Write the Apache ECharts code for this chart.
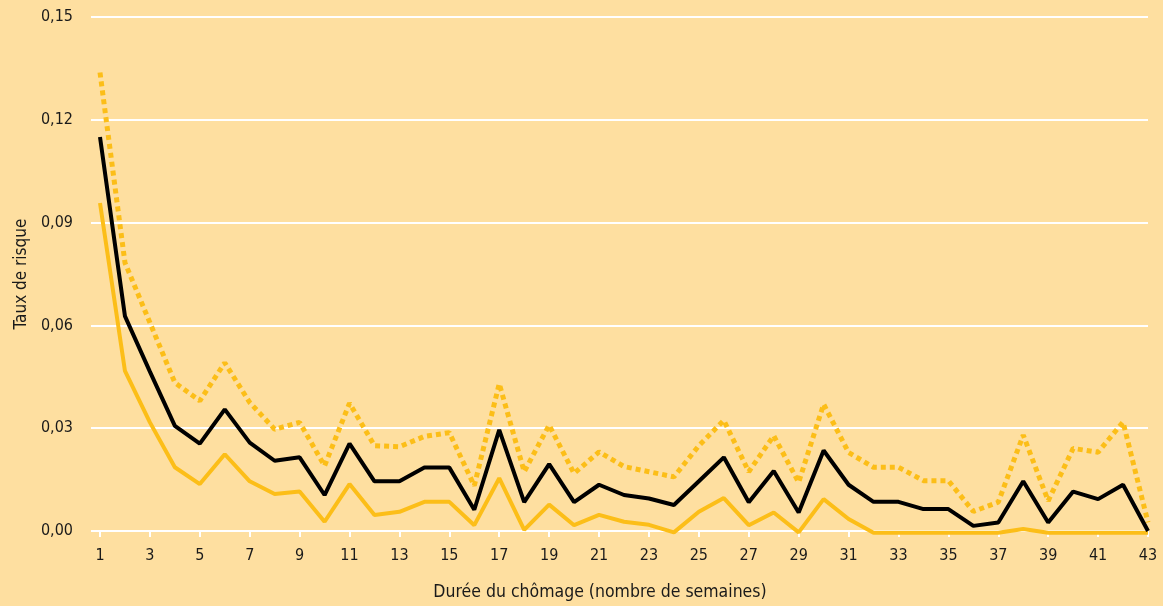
<!DOCTYPE html>
<html>
<head>
<meta charset="utf-8">
<script src="https://cdn.jsdelivr.net/npm/echarts@6/dist/echarts.min.js"></script>
<style>
html,body{margin:0;padding:0;background:#FEDFA0;}
#chart{width:1163px;height:606px;}
</style>
</head>
<body>
<div id="chart"></div>
<script>
const categories = ['1','2','3','4','5','6','7','8','9','10','11','12','13','14','15','16','17','18','19','20','21','22','23','24','25','26','27','28','29','30','31','32','33','34','35','36','37','38','39','40','41','42','43'];

const hazard = [0.115,0.0627,0.0465,0.0307,0.0255,0.0355,0.0258,0.0205,0.0215,0.0105,0.0255,0.0145,0.0145,0.0185,0.0185,0.0062,0.0295,0.0084,0.0195,0.0084,0.0135,0.0105,0.0095,0.0076,0.0145,0.0215,0.0084,0.0175,0.0054,0.0235,0.0135,0.0085,0.0085,0.0064,0.0064,0.0015,0.0025,0.0145,0.0025,0.0115,0.0093,0.0135,0.0];

const lowerBound = [0.0957,0.0467,0.0317,0.0186,0.0137,0.0224,0.0145,0.0108,0.0115,0.0027,0.0137,0.0047,0.0056,0.0085,0.0085,0.0017,0.0154,0.0003,0.0077,0.0017,0.0047,0.0027,0.0018,-0.0004,0.0056,0.0096,0.0017,0.0054,-0.0004,0.0093,0.0035,-0.0005,-0.0005,-0.0005,-0.0005,-0.0005,-0.0005,0.0006,-0.0005,-0.0005,-0.0005,-0.0005,-0.0005];

const upperBound = [0.1338,0.0783,0.0608,0.0433,0.038,0.0491,0.0375,0.0297,0.0317,0.019,0.0373,0.0249,0.0246,0.0276,0.0287,0.0132,0.043,0.0173,0.0309,0.0168,0.0231,0.0188,0.0173,0.0158,0.0249,0.0323,0.0173,0.0278,0.0142,0.037,0.0229,0.0186,0.0186,0.0147,0.0147,0.0057,0.0084,0.028,0.0088,0.0241,0.023,0.0318,0.0025];

const yTicks = {min: 0, max: 0.15, interval: 0.03};

const FONT = '"DejaVu Sans Condensed", "Liberation Sans", sans-serif';
const YELLOW = '#FCBE18';

const chart = echarts.init(document.getElementById('chart'), null, {renderer: 'canvas'});
chart.setOption({
  backgroundColor: '#FEDFA0',
  animation: false,
  grid: {left: 100, right: 15, top: 17, bottom: 74, containLabel: false},
  xAxis: {
    type: 'category',
    data: categories,
    boundaryGap: false,
    name: 'Durée du chômage (nombre de semaines)',
    nameLocation: 'middle',
    nameGap: 52,
    nameTextStyle: {fontFamily: FONT, fontSize: 17.5, color: '#1a1a1a', padding: [0, 48, 0, 0]},
    axisLine: {show: true, lineStyle: {color: '#ffffff', width: 2}},
    axisTick: {show: true, interval: 1, length: 6, lineStyle: {color: '#ffffff', width: 2}},
    axisLabel: {interval: 1, margin: 17, fontFamily: FONT, fontSize: 16, color: '#1a1a1a'},
    splitLine: {show: false}
  },
  yAxis: {
    type: 'value',
    min: yTicks.min,
    max: yTicks.max,
    interval: yTicks.interval,
    name: 'Taux de risque',
    nameLocation: 'middle',
    nameGap: 70,
    nameTextStyle: {fontFamily: FONT, fontSize: 17, color: '#1a1a1a'},
    axisLine: {show: false},
    axisTick: {show: true, length: 9, lineStyle: {color: '#ffffff', width: 2}},
    axisLabel: {margin: 27, fontFamily: FONT, fontSize: 16, color: '#1a1a1a',
      formatter: v => v.toFixed(2).replace('.', ',')},
    splitLine: {show: true, lineStyle: {color: '#ffffff', width: 2}}
  },
  series: [
    {type: 'line', data: upperBound, symbol: 'none', clip: false,
      lineStyle: {color: YELLOW, width: 5, type: [5, 4]}},
    {type: 'line', data: lowerBound, symbol: 'none', clip: false,
      lineStyle: {color: YELLOW, width: 4}},
    {type: 'line', data: hazard, symbol: 'none', clip: false,
      lineStyle: {color: '#000000', width: 4}}
  ]
});
</script>
</body>
</html>
